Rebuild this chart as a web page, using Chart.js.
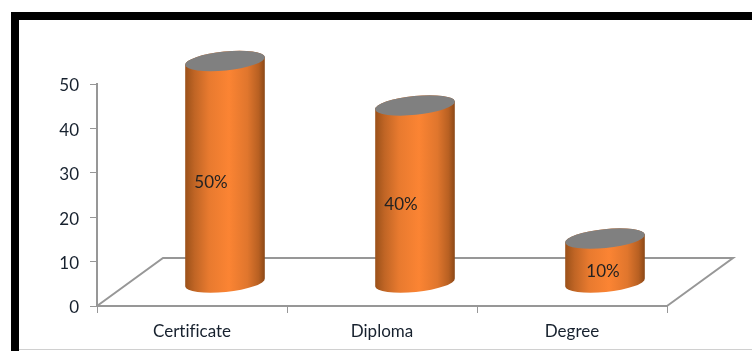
<!DOCTYPE html>
<html>
<head>
<meta charset="utf-8">
<style>
  html, body { margin: 0; padding: 0; background: #fff; overflow: hidden; }
  #frame { position: absolute; left: 11px; top: 12px; width: 741px; height: 339px; border-left: 8px solid #000; border-top: 8px solid #000; box-sizing: border-box; }
  #baseline { position: absolute; left: 19px; top: 349px; width: 733px; height: 1px; background: #d0d0d0; }
  #chart { position: absolute; left: 0; top: 0; }
</style>
</head>
<body>
<div id="frame"></div>
<div id="baseline"></div>
<canvas id="chart" width="752" height="351"></canvas>
<script src="https://cdn.jsdelivr.net/npm/chart.js@4"></script>
<script>
const categories = ['Certificate', 'Diploma', 'Degree'];
const values = [50, 40, 10];
const valueLabels = ['50%', '40%', '10%'];

const depthX = 33;
const depthY = 23;
const floorDepthX = 66;
const floorDepthY = 48;
const axisColor = '#979797';
const textColor = '#17212e';
const font = { family: "Lato", size: 17 };

// floor of the fake 3D box, sits behind the cylinders
const floorPlugin = {
  id: 'floor',
  beforeDraw(chart) {
    const { ctx, scales } = chart;
    // no fi ligature in the reference
    ctx.textRendering = 'optimizeSpeed';
    // y labels sit 2px under their ticks, chart.js has no option for that
    const drawLabels = scales.y.drawLabels;
    scales.y.drawLabels = function (area) {
      ctx.save();
      ctx.translate(0, 2);
      drawLabels.call(this, area);
      ctx.restore();
    };
  },
  beforeDatasetsDraw(chart) {
    const { ctx, chartArea } = chart;
    const { left, right, bottom } = chartArea;
    ctx.save();
    ctx.strokeStyle = axisColor;
    ctx.lineWidth = 2;
    ctx.beginPath();
    ctx.moveTo(left, bottom);
    ctx.lineTo(left + floorDepthX, bottom - floorDepthY);
    ctx.lineTo(right + floorDepthX, bottom - floorDepthY);
    ctx.lineTo(right, bottom);
    ctx.stroke();
    ctx.restore();
  }
};

const cylinderPlugin = {
  id: 'cylinder',
  afterDatasetsDraw(chart) {
    const { ctx } = chart;
    const tilt = -0.1;
    chart.getDatasetMeta(0).data.forEach((bar, i) => {
      const cx = bar.x + depthX;
      const topY = bar.y - depthY;
      const baseY = bar.base - depthY;
      const rx = bar.width / 2;
      const ry = 9.5;

      const grad = ctx.createLinearGradient(cx - rx, 0, cx + rx, 0);
      grad.addColorStop(0, '#9a5019');
      grad.addColorStop(0.12, '#c06525');
      grad.addColorStop(0.3, '#e87a2f');
      grad.addColorStop(0.55, '#fb8433');
      grad.addColorStop(0.78, '#e0762d');
      grad.addColorStop(0.92, '#b86022');
      grad.addColorStop(1, '#8a4716');

      ctx.save();
      ctx.fillStyle = grad;
      ctx.beginPath();
      ctx.ellipse(cx, baseY, rx, ry, tilt, 0, Math.PI);
      ctx.ellipse(cx, topY, rx, ry, tilt, Math.PI, Math.PI * 2);
      ctx.closePath();
      ctx.fill();

      ctx.fillStyle = '#808080';
      ctx.beginPath();
      ctx.ellipse(cx, topY, rx, ry, tilt, 0, Math.PI * 2);
      ctx.fill();

      // 10% sits nearer the middle because the short cylinder has no room
      const labelX = values[i] > 10 ? cx - 14 : cx - 2;
      ctx.fillStyle = '#222';
      ctx.font = `${font.size}px ${font.family}`;
      ctx.textAlign = 'center';
      ctx.textBaseline = 'middle';
      ctx.fillText(valueLabels[i], labelX, (topY + baseY) / 2 + 11);
      ctx.restore();
    });
  }
};

new Chart(document.getElementById('chart'), {
  type: 'bar',
  data: {
    labels: categories,
    datasets: [{
      data: values,
      backgroundColor: 'transparent',
      barThickness: 80
    }]
  },
  options: {
    responsive: false,
    animation: false,
    layout: { padding: { top: 84, right: 85, left: 0, bottom: 0 } },
    plugins: { legend: { display: false }, tooltip: { enabled: false } },
    scales: {
      x: {
        afterFit(scale) { scale.height = 45; },
        grid: { drawOnChartArea: false, color: axisColor, tickLength: 7 },
        border: { color: axisColor, width: 2 },
        ticks: { color: textColor, font, padding: 8, maxRotation: 0 }
      },
      y: {
        min: 0,
        max: 50,
        afterFit(scale) { scale.width = 97; },
        grid: { drawOnChartArea: false, color: axisColor, tickLength: 7 },
        border: { color: axisColor, width: 2 },
        ticks: { stepSize: 10, color: textColor, font, padding: 11 }
      }
    }
  },
  plugins: [floorPlugin, cylinderPlugin]
});
</script>
</body>
</html>
